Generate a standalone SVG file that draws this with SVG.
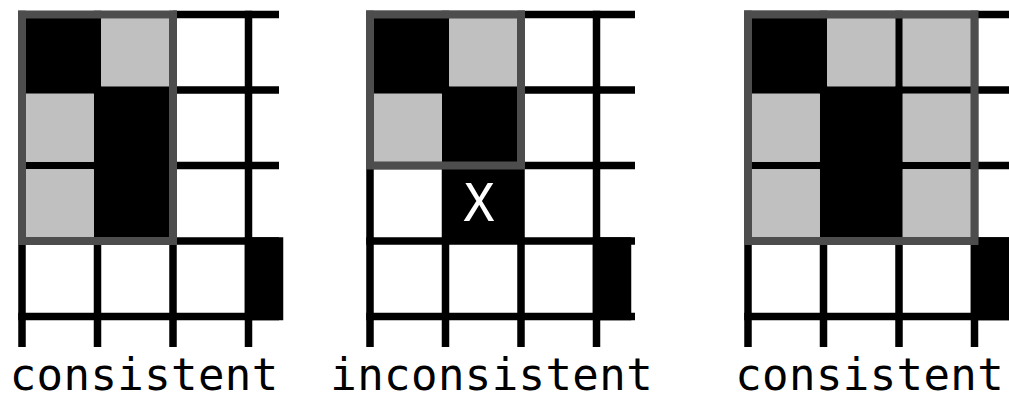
<svg xmlns="http://www.w3.org/2000/svg" width="1009" height="397" viewBox="0 0 1009 397">
<style>
.blk{fill:#000}
.gry{fill:#c0c0c0}
.ln{stroke:#000;stroke-width:7.5;fill:none}
.frm{fill:none;stroke:#4d4d4d;stroke-width:8}
.lbl{font-family:"DejaVu Sans Mono","Liberation Mono",monospace;font-size:44px;letter-spacing:0.4px;fill:#000;text-anchor:middle}
.x{font-family:"DejaVu Sans Mono","Liberation Mono",monospace;font-size:52px;fill:#fff;text-anchor:middle}
</style>
<rect width="1009" height="397" fill="#fff"/>

<g id="panel-consistent-1">
  <g id="p1-black">
    <rect class="blk" x="22" y="14.5" width="75.5" height="75.5"/>
    <rect class="blk" x="97.5" y="90" width="75.5" height="151"/>
    <rect class="blk" x="244.75" y="237.25" width="38.5" height="83"/>
  </g>
  <g id="p1-grid">
    <path class="ln" d="M22 10.75V347M97.5 10.75V347M173 10.75V347M248.5 10.75V347"/>
    <path class="ln" d="M173 14.5H279M18.25 90H279M18.25 165.5H279M18.25 241H279M18.25 316.5H279"/>
  </g>
  <g id="p1-gray">
    <rect class="gry" x="101.25" y="18.25" width="68" height="68"/>
    <rect class="gry" x="25.75" y="93.75" width="68" height="68"/>
    <rect class="gry" x="25.75" y="169.25" width="68" height="68"/>
  </g>
  <rect id="p1-frame" class="frm" x="22" y="14.5" width="151" height="226.5"/>
  <text id="p1-label" class="lbl" x="144.2" y="390">consistent</text>
</g>

<g id="panel-inconsistent">
  <g id="p2-black">
    <rect class="blk" x="370" y="14.5" width="75.5" height="75.5"/>
    <rect class="blk" x="445.5" y="90" width="75.5" height="75.5"/>
    <rect class="blk" x="445.5" y="165.5" width="75.5" height="75.5"/>
    <rect class="blk" x="592.75" y="237.25" width="38.5" height="83"/>
  </g>
  <g id="p2-grid">
    <path class="ln" d="M370 10.75V347M445.5 10.75V347M521 10.75V347M596.5 10.75V347"/>
    <path class="ln" d="M366.25 14.5H635M366.25 90H635M366.25 165.5H635M366.25 241H635M366.25 316.5H635"/>
  </g>
  <g id="p2-gray">
    <rect class="gry" x="449.25" y="18.25" width="68" height="68"/>
    <rect class="gry" x="373.75" y="93.75" width="68" height="68"/>
  </g>
  <text id="p2-x" class="x" x="479" y="221">X</text>
  <rect id="p2-frame" class="frm" x="370" y="14.5" width="151" height="151"/>
  <text id="p2-label" class="lbl" x="491.7" y="390">inconsistent</text>
</g>

<g id="panel-consistent-2">
  <g id="p3-black">
    <rect class="blk" x="748" y="14.5" width="75.5" height="75.5"/>
    <rect class="blk" x="823.5" y="90" width="75.5" height="151"/>
    <rect class="blk" x="970.75" y="237.25" width="38.25" height="83"/>
  </g>
  <g id="p3-grid">
    <path class="ln" d="M748 10.75V347M823.5 10.75V347M899 10.75V347M974.5 10.75V347"/>
    <path class="ln" d="M744.25 14.5H1009M744.25 90H1009M744.25 165.5H1009M744.25 241H1009M744.25 316.5H1009"/>
  </g>
  <g id="p3-gray">
    <rect class="gry" x="827.25" y="18.25" width="68" height="68"/>
    <rect class="gry" x="902.75" y="18.25" width="68" height="68"/>
    <rect class="gry" x="751.75" y="93.75" width="68" height="68"/>
    <rect class="gry" x="902.75" y="93.75" width="68" height="68"/>
    <rect class="gry" x="751.75" y="169.25" width="68" height="68"/>
    <rect class="gry" x="902.75" y="169.25" width="68" height="68"/>
  </g>
  <rect id="p3-frame" class="frm" x="748" y="14.5" width="226.5" height="226.5"/>
  <text id="p3-label" class="lbl" x="869.7" y="390">consistent</text>
</g>
</svg>
